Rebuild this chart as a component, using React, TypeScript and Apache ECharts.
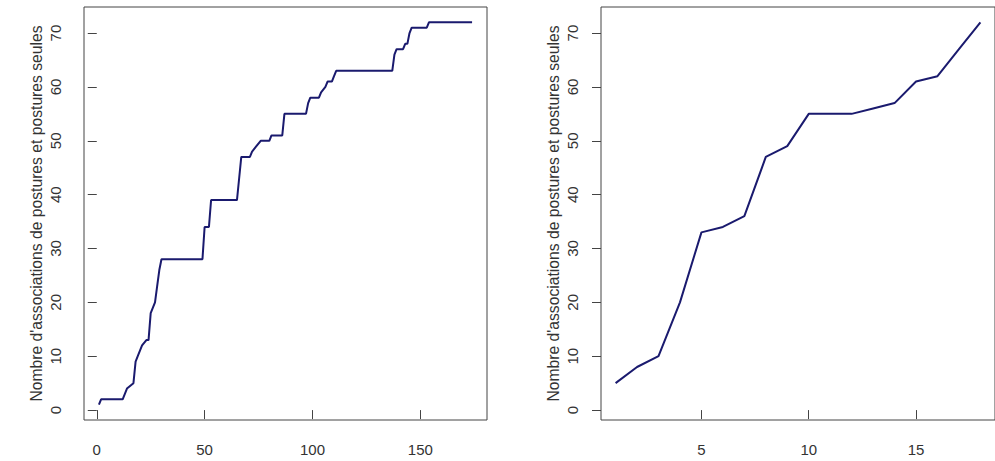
import React, { useEffect, useRef } from "react";
import * as echarts from "echarts";

// Left panel: cumulative count (breakpoints of the step curve)
const leftX = [1, 2, 12, 14, 17, 18, 19, 21, 23, 24, 25, 27, 28, 29, 30, 49, 50, 52, 53, 65, 66, 67, 71, 72, 74, 76, 80, 81, 86, 87, 97, 98, 99, 103, 104, 106, 107, 109, 110, 111, 137, 138, 139, 142, 143, 144, 145, 146, 153, 154, 174];
const leftY = [1, 2, 2, 4, 5, 9, 10, 12, 13, 13, 18, 20, 23, 26, 28, 28, 34, 34, 39, 39, 43, 47, 47, 48, 49, 50, 50, 51, 51, 55, 55, 57, 58, 58, 59, 60, 61, 61, 62, 63, 63, 66, 67, 67, 68, 68, 70, 71, 71, 72, 72];

// Right panel
const rightX = [1, 2, 3, 4, 5, 6, 7, 8, 9, 10, 11, 12, 13, 14, 15, 16, 17, 18];
const rightY = [5, 8, 10, 20, 33, 34, 36, 47, 49, 55, 55, 55, 56, 57, 61, 62, 67, 72];

// Tick labels
const yTicks = [0, 10, 20, 30, 40, 50, 60, 70];
const leftXTicks = [0, 50, 100, 150];
const rightXTicks = [5, 10, 15];

const yTitle = "Nombre d'associations de postures et postures seules";

const FONT = "'Liberation Sans', Arial, sans-serif";
const TEXT = "#333";
const LINE = "#444";
const CURVE = "#1a1a6e";

export default function App() {
  const ref = useRef<HTMLDivElement>(null);
  useEffect(() => {
    document.body.style.margin = "0";
    if (!ref.current) return;
    const chart = echarts.init(ref.current, undefined, { renderer: "svg" });

    const gridBase = {
      top: 7,
      width: 403,
      height: 413,
      show: true,
      borderColor: LINE,
      borderWidth: 1,
      backgroundColor: "transparent",
    };

    const xAxis = (gi: number, min: number, max: number, ticks: number[]) => ({
      gridIndex: gi,
      type: "value",
      min,
      max,
      axisLine: { show: false },
      splitLine: { show: false },
      axisTick: {
        show: true,
        inside: false,
        length: 9,
        customValues: ticks,
        lineStyle: { color: LINE, width: 1 },
      },
      axisLabel: {
        customValues: ticks,
        margin: 22,
        color: TEXT,
        fontFamily: FONT,
        fontSize: 15,
      },
    });

    const yAxis = (gi: number) => ({
      gridIndex: gi,
      type: "value",
      min: -1.84,
      max: 74.84,
      name: yTitle,
      nameLocation: "middle",
      nameGap: 40,
      nameTextStyle: { color: TEXT, fontFamily: FONT, fontSize: 15.7 },
      axisLine: { show: false },
      splitLine: { show: false },
      axisTick: {
        show: true,
        inside: false,
        length: 9,
        customValues: yTicks,
        lineStyle: { color: LINE, width: 1 },
      },
      axisLabel: {
        customValues: yTicks,
        rotate: 90,
        margin: 21,
        color: TEXT,
        fontFamily: FONT,
        fontSize: 15,
      },
    });

    chart.setOption({
      animation: false,
      backgroundColor: "#fff",
      grid: [
        { ...gridBase, left: 84 },
        { ...gridBase, left: 601 },
      ],
      xAxis: [
        xAxis(0, -5.92, 180.92, leftXTicks),
        xAxis(1, 0.32, 18.68, rightXTicks),
      ],
      yAxis: [yAxis(0), yAxis(1)],
      series: [
        {
          type: "line",
          xAxisIndex: 0,
          yAxisIndex: 0,
          data: leftX.map((x, i) => [x, leftY[i]]),
          symbol: "none",
          lineStyle: { color: CURVE, width: 2 },
        },
        {
          type: "line",
          xAxisIndex: 1,
          yAxisIndex: 1,
          data: rightX.map((x, i) => [x, rightY[i]]),
          symbol: "none",
          lineStyle: { color: CURVE, width: 2 },
        },
      ],
    });
    return () => chart.dispose();
  }, []);
  return <div ref={ref} style={{ width: 995, height: 461 }} />;
}
